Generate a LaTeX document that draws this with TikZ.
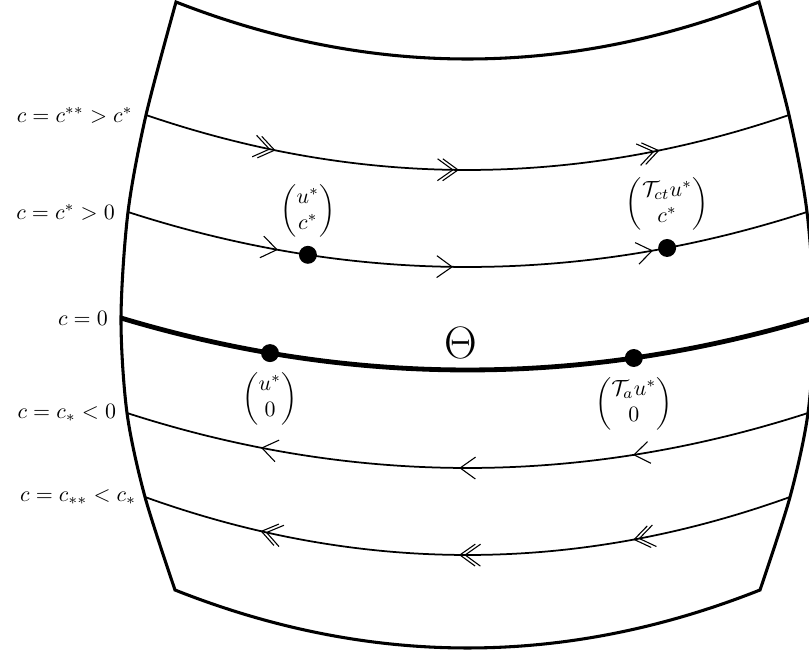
\documentclass[tikz,border=0pt]{standalone}
\usepackage{amsmath}
\usetikzlibrary{arrows.meta,positioning,decorations.markings}
\tikzset{
  % frame of the region
  frame/.style={line width=1.4pt,line join=miter},
  % level lines c = const
  lvl/.style={line width=0.8pt},
  lvlzero/.style={line width=2.2pt},
  % equilibria
  dot/.style={circle,fill=black,inner sep=0pt,minimum size=8.2pt},
  % open arrow head
  hd/.tip={Straight Barb[length=7pt,width=10pt,line width=0.5pt]},
  % arrows along the level lines
  fwd/.style n args={3}{decoration={markings,
      mark=at position #1 with {\arrow{hd}},
      mark=at position #2 with {\arrow{hd}},
      mark=at position #3 with {\arrow{hd}}},postaction={decorate}},
  dfwd/.style n args={3}{decoration={markings,
      mark=at position #1 with {\arrow{hd}\pgftransformxshift{-2.4pt}\arrow{hd}},
      mark=at position #2 with {\arrow{hd}\pgftransformxshift{-2.4pt}\arrow{hd}},
      mark=at position #3 with {\arrow{hd}\pgftransformxshift{-2.4pt}\arrow{hd}}},postaction={decorate}},
  bwd/.style n args={3}{decoration={markings,
      mark=at position #1 with {\arrowreversed{hd}},
      mark=at position #2 with {\arrowreversed{hd}},
      mark=at position #3 with {\arrowreversed{hd}}},postaction={decorate}},
  dbwd/.style n args={3}{decoration={markings,
      mark=at position #1 with {\arrowreversed{hd}\pgftransformxshift{2.4pt}\arrowreversed{hd}},
      mark=at position #2 with {\arrowreversed{hd}\pgftransformxshift{2.4pt}\arrowreversed{hd}},
      mark=at position #3 with {\arrowreversed{hd}\pgftransformxshift{2.4pt}\arrowreversed{hd}}},postaction={decorate}}
}
\begin{document}
\begin{tikzpicture}[x=0.4566pt,y=-0.4566pt]
  \useasboundingbox (0,0) rectangle (809,652);
  \clip (0,0) rectangle (809,652);

  % corners of the frame and ends of the level lines
  \coordinate (TL) at (176,2);   \coordinate (TR) at (759,2);
  \coordinate (L1) at (146,115); \coordinate (R1) at (789,115);
  \coordinate (L2) at (128,212); \coordinate (R2) at (807,212);
  \coordinate (L3) at (121,318); \coordinate (R3) at (814,318);
  \coordinate (L4) at (127,413); \coordinate (R4) at (808,413);
  \coordinate (L5) at (145,497); \coordinate (R5) at (790,497);
  \coordinate (BL) at (175,590); \coordinate (BR) at (760,590);

  % frame
  \draw[frame] (TL) .. controls +(194.3,76) and +(-194.3,76) .. (TR)
    -- plot[smooth] coordinates {(TR) (R1) (R2) (R3) (R4) (R5) (BR)}
    .. controls +(-195,77.3) and +(195,77.3) .. (BL)
    -- plot[smooth] coordinates {(BL) (L5) (L4) (L3) (L2) (L1) (TL)} -- cycle;

  % level lines
  \draw[lvl,dfwd={0.205}{0.487}{0.795}] (L1) .. controls +(214.3,73.3) and +(-214.3,73.3) .. (R1);
  \draw[lvl,fwd={0.224}{0.479}{0.770}] (L2) .. controls +(226.3,73.3) and +(-226.3,73.3) .. (R2)
    node[dot,pos=0.265] (us) {} node[dot,pos=0.794] (ts) {};
  \draw[lvlzero] (L3) .. controls +(231,69.3) and +(-231,69.3) .. (R3)
    node[dot,pos=0.215] (uz) {} node[dot,pos=0.740] (tz) {}
    node[pos=0.49,above=1pt,font=\huge] (theta) {$\Theta$};
  \draw[lvl,bwd={0.200}{0.488}{0.740}] (L4) .. controls +(227,73.3) and +(-227,73.3) .. (R4);
  \draw[lvl,dbwd={0.183}{0.487}{0.753}] (L5) .. controls +(215,77.3) and +(-215,77.3) .. (R5);

  % labels of the equilibria
  \node[above=0pt of us] (lus) {$\begin{pmatrix} u^* \\ c^* \end{pmatrix}$};
  \node[above=0pt of ts] (lts) {$\begin{pmatrix} \mathcal{T}_{ct}u^* \\ c^* \end{pmatrix}$};
  \node[below=0pt of uz] (luz) {$\begin{pmatrix} u^* \\ 0 \end{pmatrix}$};
  \node[below=0pt of tz] (ltz) {$\begin{pmatrix} \mathcal{T}_a u^* \\ 0 \end{pmatrix}$};

  % labels of the level lines
  \node[left=2.5pt of L1] (c1) {$c=c^{**}>c^*$};
  \node[left=2.5pt of L2] (c2) {$c=c^*>0$};
  \node[left=2.5pt of L3] (c3) {$c=0$};
  \node[left=1.5pt of L4] (c4) {$c=c_*<0$};
  \node[left=0.5pt of L5] (c5) {$c=c_{**}<c_*$};
\end{tikzpicture}
\end{document}
